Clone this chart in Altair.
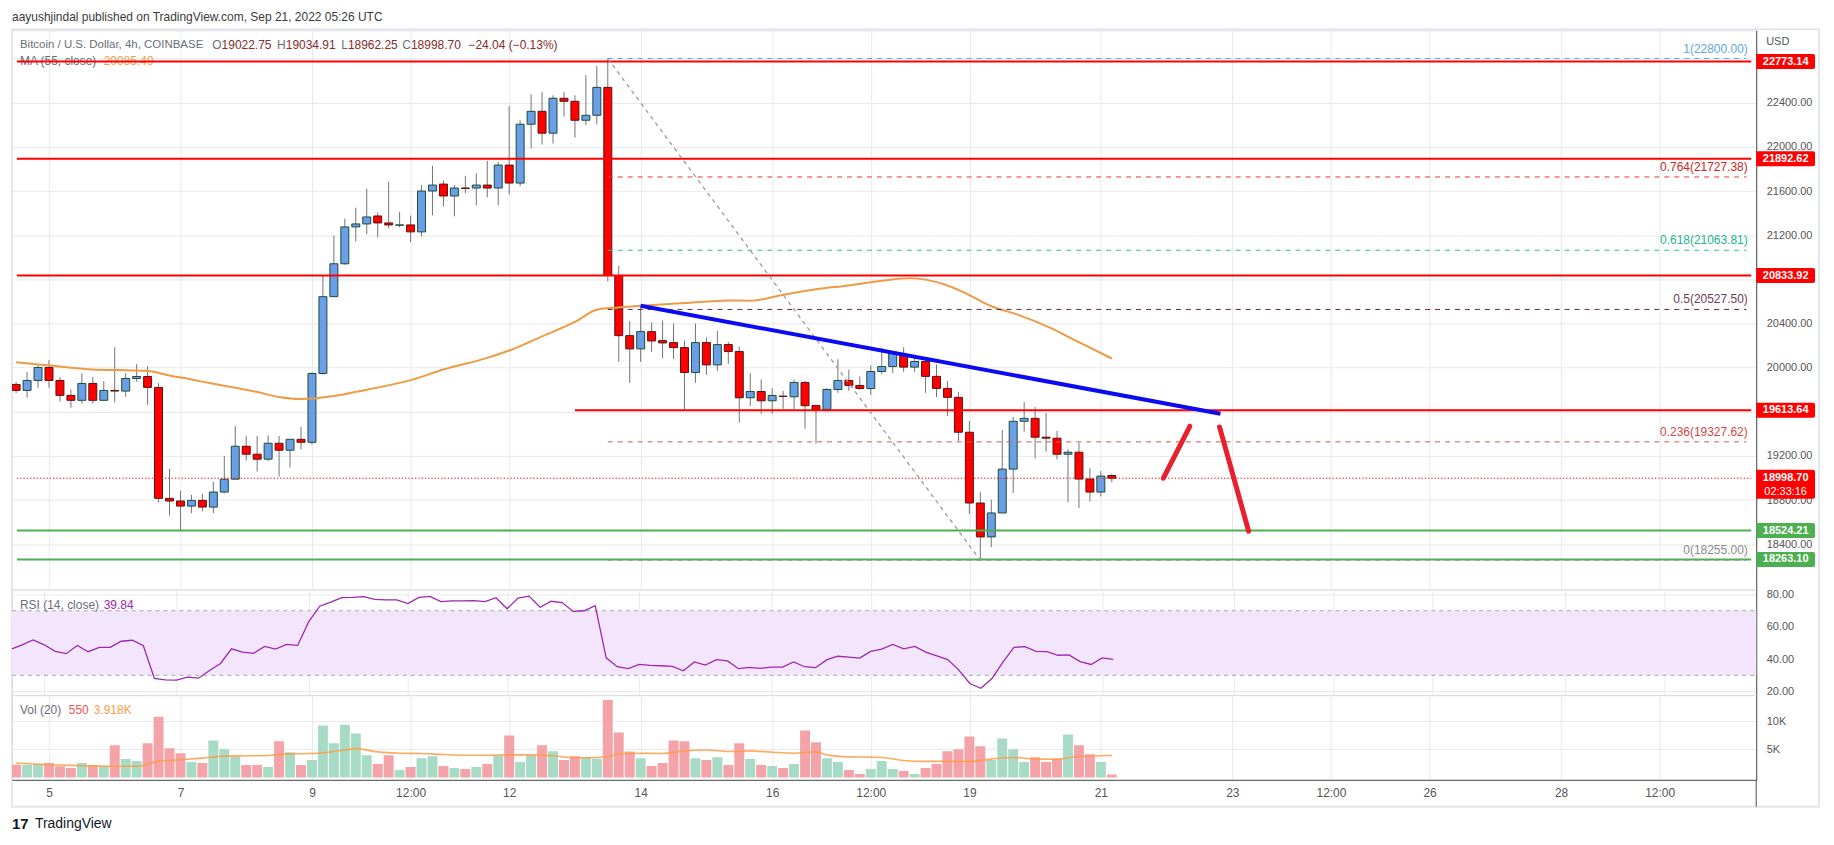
import altair as alt
import pandas as pd

# ---------------------------------------------------------------- data
# 4h candles, bar index k counted from 5 Sep 2022 00:00 UTC (k=-3 -> 4 Sep 12:00)
FIRST_BAR = -3

opens = [19848, 19794, 19884, 20002, 19884, 19749, 19704, 19857, 19704, 19794,
         19788, 19902, 19920, 19821, 18816, 18792, 18746, 18798, 18737, 18873,
         18990, 19288, 19216, 19171, 19315, 19252, 19351, 19324, 19947, 20643,
         20941, 21275, 21302, 21374, 21311, 21290, 21293, 21230, 21600, 21663,
         21555, 21627, 21627, 21654, 21627, 21835, 21672, 22205, 22322, 22124,
         22440, 22413, 22241, 22286, 22539, 20835, 20290, 20170, 20326, 20245,
         20227, 20182, 19956, 20227, 20025, 20209, 20146, 19727, 19784, 19700,
         19742, 19736, 19866, 19658, 19622, 19802, 19884, 19839, 19811, 19965,
         20010, 20110, 20005, 20056, 19921, 19812, 19731, 19415, 18774, 18467,
         18684, 19081, 19514, 19541, 19370, 19361, 19216, 19234, 18991, 18873,
         19022.75]
highs = [19870, 19960, 20029, 20068, 19914, 19803, 19950, 19914, 19878, 20185,
         19950, 20032, 20014, 19860, 19084, 18885, 18849, 18858, 18966, 19201,
         19472, 19382, 19382, 19388, 19382, 19351, 19463, 19959, 20835, 21196,
         21350, 21449, 21621, 21404, 21684, 21413, 21377, 21654, 21829, 21696,
         21654, 21738, 21762, 21874, 21865, 22370, 22241, 22476, 22497, 22467,
         22497, 22467, 22650, 22732, 22800, 20923, 20420, 20570, 20410, 20428,
         20401, 20245, 20401, 20275, 20335, 20233, 20191, 19950, 19893, 19814,
         19790, 19893, 19878, 19660, 19814, 20076, 19983, 19920, 20019, 20182,
         20149, 20185, 20089, 20095, 20029, 19878, 19779, 19517, 18876, 18804,
         19436, 19553, 19689, 19644, 19589, 19427, 19261, 19319, 19090, 19063,
         19034.91]
lows = [19770, 19728, 19818, 19818, 19692, 19637, 19674, 19674, 19704, 19683,
        19737, 19872, 19664, 18780, 18662, 18530, 18683, 18698, 18683, 18861,
        18990, 19159, 19059, 19153, 19014, 19096, 19258, 19303, 19938, 20643,
        20932, 21142, 21209, 21181, 21263, 21272, 21136, 21190, 21380, 21461,
        21371, 21579, 21470, 21543, 21470, 21570, 21645, 21985, 22021, 22030,
        22274, 22084, 22196, 22202, 20781, 20053, 19863, 20052, 20143, 20088,
        20079, 19622, 19863, 19935, 19971, 20034, 19501, 19652, 19583, 19583,
        19625, 19622, 19447, 19312, 19622, 19772, 19790, 19800, 19754, 19944,
        19953, 19963, 19963, 19773, 19734, 19562, 19337, 18674, 18255, 18374,
        18684, 18864, 19421, 19177, 19240, 19168, 18780, 18729, 18789, 18834,
        18962.25]
closes = [19794, 19884, 20002, 19884, 19749, 19704, 19857, 19704, 19794, 19788,
          19902, 19920, 19821, 18816, 18792, 18746, 18798, 18737, 18873, 18990,
          19288, 19216, 19171, 19315, 19252, 19351, 19324, 19947, 20643, 20941,
          21275, 21302, 21365, 21311, 21293, 21293, 21230, 21600, 21654, 21555,
          21627, 21624, 21654, 21627, 21835, 21672, 22205, 22322, 22124, 22440,
          22413, 22241, 22286, 22539, 20835, 20290, 20170, 20326, 20242, 20224,
          20182, 19956, 20227, 20025, 20209, 20146, 19727, 19784, 19700, 19748,
          19739, 19866, 19655, 19622, 19802, 19884, 19839, 19811, 19965, 20010,
          20137, 20005, 20056, 19921, 19812, 19731, 19415, 18774, 18467, 18684,
          19081, 19514, 19541, 19370, 19361, 19216, 19234, 18991, 18873, 19018,
          18998.70]
volume_k = [2.27, 2.27, 2.38, 2.56, 1.98, 1.69, 2.56, 2.21, 1.98, 5.70,
            3.26, 2.91, 6.05, 10.76, 5.17, 4.30, 2.73, 2.56, 6.57, 5.00,
            3.66, 2.21, 2.21, 1.86, 6.40, 4.48, 2.21, 3.08, 9.19, 6.05,
            9.36, 7.79, 3.95, 2.38, 3.95, 1.34, 1.86, 3.43, 3.78, 2.03,
            1.69, 1.51, 1.86, 2.38, 3.95, 7.44, 2.73, 3.95, 5.70, 4.65,
            3.08, 3.78, 3.60, 3.31, 13.72, 7.97, 4.59, 3.43, 2.03, 2.56,
            6.57, 6.40, 3.43, 3.08, 3.60, 2.21, 6.05, 3.26, 2.21, 2.03,
            1.69, 2.38, 8.31, 6.22, 3.43, 2.73, 1.34, 0.64, 1.51, 2.91,
            1.51, 1.16, 0.64, 1.69, 2.38, 4.65, 5.00, 7.27, 5.52, 3.08,
            6.92, 5.00, 2.73, 3.60, 2.73, 3.26, 7.62, 5.70, 4.13, 2.73,
            0.55]
rsi14 = [46.2, 48.9, 51.9, 48.9, 44.8, 43.4, 48.5, 44.6, 47.3, 47.3,
         51.1, 51.7, 48.3, 28.0, 27.2, 27.0, 28.8, 28.2, 33.0, 37.3,
         46.4, 44.4, 43.6, 47.9, 46.2, 49.1, 48.5, 63.1, 72.8, 75.3,
         78.1, 78.3, 78.7, 77.1, 76.7, 76.7, 74.5, 78.3, 78.9, 75.7,
         76.1, 76.1, 76.3, 75.7, 78.1, 71.2, 77.9, 79.1, 72.2, 75.9,
         75.1, 69.6, 70.0, 73.2, 40.8, 35.3, 34.1, 36.7, 36.1, 35.9,
         35.5, 32.8, 38.3, 36.3, 39.7, 38.9, 34.1, 34.9, 34.3, 35.1,
         35.1, 38.3, 35.3, 34.7, 39.5, 41.8, 41.2, 40.6, 44.8, 46.2,
         49.1, 46.4, 47.9, 44.4, 42.0, 39.7, 33.2, 24.9, 21.9, 28.0,
         38.1, 47.3, 47.7, 44.8, 44.6, 42.4, 42.6, 38.5, 36.7, 40.8,
         39.84]

ma_bar = [-3, 0, 2, 4, 6, 9, 11, 13, 15, 17, 19, 21, 23, 26, 29, 33, 36, 40, 42, 45,
          48, 50, 52, 54, 58, 62, 64, 67, 70, 73, 76, 78.6, 81.8, 83.3, 86, 88.4,
          91.4, 93.8, 97]
ma_val = [20050, 20020, 19999, 19984, 19978, 19969, 19929, 19893, 19854, 19818,
          19779, 19734, 19716, 19743, 19800, 19887, 19983, 20089, 20155, 20284,
          20414, 20525, 20546, 20561, 20585, 20609, 20606, 20660, 20711, 20745,
          20787, 20811, 20751, 20691, 20556, 20480, 20360, 20240, 20083]

volma_bar = [-3, 0, 3, 6, 8, 10, 12, 14, 16, 18, 20, 22, 24, 26, 28, 30, 32, 34, 36,
             38, 40, 42, 44, 46, 48, 50, 51, 52, 54, 56, 58, 60, 62, 64, 66, 68, 70,
             71, 73, 75, 76, 78, 80, 82, 84, 86, 88, 90, 92, 94, 96, 97]
volma_val = [2.56, 2.27, 2.09, 1.98, 1.98, 2.85, 3.14, 3.43, 3.78, 3.84, 3.90, 4.19,
             4.24, 4.59, 5.12, 4.53, 4.30, 4.24, 4.07, 3.95, 3.95, 4.01, 4.01, 3.84,
             3.49, 3.55, 3.66, 4.19, 4.30, 4.24, 4.71, 4.88, 4.59, 4.71, 4.48, 4.30,
             4.53, 4.01, 3.66, 3.60, 3.55, 3.02, 2.85, 2.85, 2.85, 3.26, 3.55, 3.26,
             3.26, 3.72, 3.84, 3.92]

# drawings (day = days after 5 Sep 00:00)
red_levels = [22773.14, 21892.62, 20833.92, 19613.64]
red_level_start = [None, None, None, 8.0]
green_levels = [18524.21, 18263.10]
last_price = 18998.70
fib_ratio = ["1", "0.764", "0.618", "0.5", "0.236", "0"]
fib_price = [22800.00, 21727.38, 21063.81, 20527.50, 19327.62, 18255.00]
fib_color = ["#5ea9dd", "#e53935", "#22c29a", "#5d2547", "#d9534f", "#9a9a9a"]
fib_text_color = ["#5ea9dd", "#c62828", "#22b58f", "#6b3a57", "#d64545", "#8a8a8a"]
fib_start = 8.5
fib_end = 25.82
trend_day = [9.0, 17.82]
trend_price = [20561, 19583]
diag_day = [8.5, 14.1667]
diag_price = [22800, 18255]
arrow_day = [[16.951, 17.353], [17.805, 18.248]]
arrow_price = [[18999, 19469], [19463, 18518]]

time_ticks = [0, 2, 4, 5.5, 7, 9, 11, 12.5, 14, 16, 18, 19.5, 21, 23, 24.5]
price_ticks = [18400, 18800, 19200, 19600, 20000, 20400, 20800, 21200, 21600, 22000, 22400, 22800]
hidden_price_labels = [19600, 20800, 22800]   # covered by the price tags in the original
rsi_ticks = [20, 40, 60, 80]
vol_ticks = [5, 10]

# ---------------------------------------------------------------- layout / style
FONT = "Liberation Sans"
W = 1750
H_MAIN, H_RSI, H_VOL = 561, 106, 85
X_DOM = [-0.487, 25.893]
Y_MAIN = [17991, 23056]
Y_RSI = [17.71, 83.21]
Y_VOL = [-0.41, 14.59]
GRID = "#e9e9eb"
AXC = "#4d4d4d"
LBL = "#555555"
UP, UP_B = "#6b9ee9", "#1d4d34"
DN, DN_B = "#ff0000", "#5a1212"
WICK = "#747474"
RED = "#ff0000"
GREEN = "#4caf50"
HDR_GREY = "#6a6d78"
HDR_VAL = "#862a2a"

xsc = alt.Scale(domain=X_DOM, nice=False, zero=False)
ax_x_grid = alt.Axis(values=time_ticks, labels=False, ticks=False, domain=False,
                     grid=True, gridColor=GRID, title=None)
ax_x_bottom = alt.Axis(values=time_ticks, labelExpr="datum.value % 1 != 0 ? '12:00' : format(datum.value + 5, 'd')",
                       ticks=False, tickSize=0, labelPadding=8, labelFontSize=12, labelColor=LBL,
                       labelFont=FONT, domain=True, domainColor=AXC, grid=True, gridColor=GRID,
                       title=None, labelFlush=False)


def right_axis(values, fmt=None, expr=None):
    kw = dict(orient="right", values=values, ticks=False, tickSize=0, labelPadding=10,
              labelFontSize=11, labelColor=LBL, labelFont=FONT, domain=True, domainColor=AXC,
              grid=True, gridColor=GRID, title=None)
    if fmt:
        kw["format"] = fmt
    if expr:
        kw["labelExpr"] = expr
    return alt.Axis(**kw)


hide_expr = " || ".join(f"datum.value == {v}" for v in hidden_price_labels)
ax_y_main = right_axis(price_ticks, expr=f"({hide_expr}) ? '' : format(datum.value, '.2f')")
ax_y_rsi = right_axis(rsi_ticks, fmt=".2f")
ax_y_vol = right_axis(vol_ticks, expr="datum.value + 'K'")

ysc_main = alt.Scale(domain=Y_MAIN, nice=False, zero=False)
ysc_rsi = alt.Scale(domain=Y_RSI, nice=False, zero=False)
ysc_vol = alt.Scale(domain=Y_VOL, nice=False, zero=False)


def X(f, ax):
    return alt.X(f"{f}:Q", scale=xsc, axis=ax, title=None)


def Ym(f):
    return alt.Y(f"{f}:Q", scale=ysc_main, axis=ax_y_main, title=None)


one = pd.DataFrame({"d": [0]})


def txt(s, x, y, color, size=12, align="left", weight="normal"):
    return alt.Chart(one).mark_text(text=s, align=align, baseline="middle", color=color,
                                    fontSize=size, font=FONT, fontWeight=weight).encode(
        x=alt.value(x), y=alt.value(y))


# ---------------------------------------------------------------- frames
n = len(opens)
bar_day = [(FIRST_BAR + i) / 6 for i in range(n)]
candles = pd.DataFrame({
    "t": bar_day, "o": opens, "h": highs, "l": lows, "c": closes,
})
candles["bt"] = candles[["o", "c"]].max(axis=1)
candles["bb"] = candles[["o", "c"]].min(axis=1)
candles["dir"] = ["up" if c >= o else "down" for o, c in zip(opens, closes)]

vol_df = pd.DataFrame({"t": bar_day, "v": volume_k, "dir": candles["dir"]})
rsi_df = pd.DataFrame({"t": bar_day, "r": rsi14})
ma_df = pd.DataFrame({"t": [b / 6 for b in ma_bar], "m": ma_val})
volma_df = pd.DataFrame({"t": [b / 6 for b in volma_bar], "m": volma_val})

red_df = pd.DataFrame({"p": red_levels,
                       "xs": [X_DOM[0] if s is None else s for s in red_level_start],
                       "xe": [X_DOM[1]] * len(red_levels)})
green_df = pd.DataFrame({"p": green_levels, "xs": [X_DOM[0]] * 2, "xe": [X_DOM[1]] * 2})
last_df = pd.DataFrame({"p": [last_price], "xs": [X_DOM[0]], "xe": [X_DOM[1]]})
fib_df = pd.DataFrame({"p": fib_price, "col": fib_color, "tcol": fib_text_color,
                       "xs": [fib_start] * 6, "xe": [fib_end] * 6,
                       "lab": [f"{r}({p:.2f})" for r, p in zip(fib_ratio, fib_price)]})
trend_df = pd.DataFrame({"t": trend_day, "p": trend_price})
diag_df = pd.DataFrame({"t": diag_day, "p": diag_price})
arrow_df = pd.DataFrame({"t": arrow_day[0] + arrow_day[1], "p": arrow_price[0] + arrow_price[1],
                         "seg": ["a", "a", "b", "b"]})
tag_df = pd.DataFrame({"p": red_levels + green_levels,
                       "col": [RED] * 4 + [GREEN] * 2,
                       "lab": [f"{p:.2f}" for p in red_levels + green_levels]})
last_tag = pd.DataFrame({"p": [last_price], "lab": [f"{last_price:.2f}"], "cd": ["02:33:16"]})

# ---------------------------------------------------------------- main pane
frame = alt.Chart(one).mark_rect(fillOpacity=0, stroke="#e4e7ed", strokeWidth=2).encode(
    x=alt.value(0), x2=alt.value(1813), y=alt.value(-1), y2=alt.value(779))

header = [
    txt("aayushjindal published on TradingView.com, Sep 21, 2022 05:26 UTC", 0, -13, "#3a3a3a"),
    txt("Bitcoin / U.S. Dollar, 4h, COINBASE", 8, 14.3, HDR_GREY, size=11.5),
    txt("O", 201, 14.3, HDR_GREY), txt("19022.75", 210.3, 14.3, HDR_VAL),
    txt("H", 266, 14.3, HDR_GREY), txt("19034.91", 274.7, 14.3, HDR_VAL),
    txt("L", 330.3, 14.3, HDR_GREY), txt("18962.25", 337, 14.3, HDR_VAL),
    txt("C", 391.6, 14.3, HDR_GREY), txt("18998.70", 400.3, 14.3, HDR_VAL),
    txt("\u221224.04 (\u22120.13%)", 458, 14.3, HDR_VAL),
    txt("MA (55, close)", 8, 31.3, HDR_GREY),
    txt("20085.49", 92, 31.3, "#f0a04b"),
    txt("USD", W + 10, 12, LBL, size=11),
]

wicks = alt.Chart(candles).mark_rule(color=WICK, strokeWidth=1, clip=True).encode(
    x=X("t", ax_x_grid), y=Ym("l"), y2="h:Q")
bodies = alt.Chart(candles).mark_bar(size=8, strokeWidth=1, clip=True).encode(
    x=X("t", ax_x_grid), y=Ym("bt"), y2="bb:Q",
    fill=alt.Fill("dir:N", scale=alt.Scale(domain=["up", "down"], range=[UP, DN]), legend=None),
    stroke=alt.Stroke("dir:N", scale=alt.Scale(domain=["up", "down"], range=[UP_B, DN_B]), legend=None))
ma_line = alt.Chart(ma_df).mark_line(color="#ef9a45", strokeWidth=2, interpolate="monotone",
                                     clip=True).encode(x=X("t", ax_x_grid), y=Ym("m"))

red_lines = alt.Chart(red_df).mark_rule(color=RED, strokeWidth=2).encode(
    x=X("xs", ax_x_grid), x2="xe:Q", y=Ym("p"))
green_lines = alt.Chart(green_df).mark_rule(color=GREEN, strokeWidth=2).encode(
    x=X("xs", ax_x_grid), x2="xe:Q", y=Ym("p"))
fib_lines = alt.Chart(fib_df).mark_rule(strokeWidth=1, strokeDash=[5, 5]).encode(
    x=X("xs", ax_x_grid), x2="xe:Q", y=Ym("p"), color=alt.Color("col:N", scale=None))
fib_labels = alt.Chart(fib_df).mark_text(align="right", baseline="middle", dy=-10, fontSize=12,
                                         font=FONT).encode(
    x=alt.value(W - 8.5), y=Ym("p"), text="lab:N", color=alt.Color("tcol:N", scale=None))
diag = alt.Chart(diag_df).mark_line(color="#9a9a9a", strokeWidth=1.3, strokeDash=[4, 4]).encode(
    x=X("t", ax_x_grid), y=Ym("p"))
last_line = alt.Chart(last_df).mark_rule(color=RED, strokeWidth=1, strokeDash=[1.3, 2]).encode(
    x=X("xs", ax_x_grid), x2="xe:Q", y=Ym("p"))
trend = alt.Chart(trend_df).mark_line(color="#0b0bf2", strokeWidth=4).encode(
    x=X("t", ax_x_grid), y=Ym("p"))
arrows = alt.Chart(arrow_df).mark_line(color="#e8202d", strokeWidth=5, strokeCap="round").encode(
    x=X("t", ax_x_grid), y=Ym("p"), detail="seg:N")

tag_rect = alt.Chart(tag_df).mark_rect(yOffset=-7.5, y2Offset=7.5, cornerRadiusTopRight=2,
                                       cornerRadiusBottomRight=2).encode(
    x=alt.value(W), x2=alt.value(W + 59), y=Ym("p"), y2="p:Q", color=alt.Color("col:N", scale=None))
tag_text = alt.Chart(tag_df).mark_text(color="white", fontSize=11, fontWeight="bold", font=FONT,
                                       align="center", baseline="middle").encode(
    x=alt.value(W + 29.5), y=Ym("p"), text="lab:N")
last_rect = alt.Chart(last_tag).mark_rect(color=RED, yOffset=-8.5, y2Offset=20.5,
                                          cornerRadiusTopRight=2, cornerRadiusBottomRight=2).encode(
    x=alt.value(W), x2=alt.value(W + 59), y=Ym("p"), y2="p:Q")
last_text = alt.Chart(last_tag).mark_text(color="white", fontSize=11, fontWeight="bold", font=FONT,
                                          align="center", baseline="middle").encode(
    x=alt.value(W + 29.5), y=Ym("p"), text="lab:N")
last_cd = alt.Chart(last_tag).mark_text(color="white", fontSize=11, font=FONT, dy=14,
                                        align="center", baseline="middle").encode(
    x=alt.value(W + 29.5), y=Ym("p"), text="cd:N")

main = alt.layer(frame, *header, wicks, bodies, ma_line, red_lines, green_lines, fib_lines,
                 fib_labels, diag, last_line, trend, arrows, tag_rect, tag_text,
                 last_rect, last_text, last_cd).properties(width=W, height=H_MAIN)

# ---------------------------------------------------------------- RSI pane
band_df = pd.DataFrame({"x0": [X_DOM[0]], "x1": [X_DOM[1]], "y0": [30], "y1": [70]})
band_lines = pd.DataFrame({"r": [30, 70], "xs": [X_DOM[0]] * 2, "xe": [X_DOM[1]] * 2})


def Yr(f):
    return alt.Y(f"{f}:Q", scale=ysc_rsi, axis=ax_y_rsi, title=None)


band = alt.Chart(band_df).mark_rect(color="#f3e6fc").encode(
    x=X("x0", ax_x_grid), x2="x1:Q", y=Yr("y0"), y2="y1:Q")
band_rules = alt.Chart(band_lines).mark_rule(color="#a8a8a8", strokeWidth=1, strokeDash=[4, 4]).encode(
    x=X("xs", ax_x_grid), x2="xe:Q", y=Yr("r"))
rsi_line = alt.Chart(rsi_df).mark_line(color="#9c27b0", strokeWidth=1.3, clip=True).encode(
    x=X("t", ax_x_grid), y=Yr("r"))
rsi = alt.layer(band, band_rules, rsi_line,
                txt("RSI (14, close)", 8, 15.8, HDR_GREY),
                txt("39.84", 92, 15.8, "#9c27b0")).properties(width=W, height=H_RSI)

# ---------------------------------------------------------------- volume pane
vol_bars = alt.Chart(vol_df).mark_bar(size=10, clip=True).encode(
    x=X("t", ax_x_bottom),
    y=alt.Y("v:Q", scale=ysc_vol, axis=ax_y_vol, title=None), y2=alt.value(H_VOL),
    color=alt.Color("dir:N", scale=alt.Scale(domain=["up", "down"], range=["#a8dbc5", "#f4a4a9"]),
                    legend=None))
vol_ma = alt.Chart(volma_df).mark_line(color="#ff9b45", strokeWidth=1.6, opacity=0.85,
                                       interpolate="monotone", clip=True).encode(
    x=X("t", ax_x_bottom), y=alt.Y("m:Q", scale=ysc_vol, axis=ax_y_vol, title=None))
axis_ext = alt.Chart(one).mark_rule(color=AXC, strokeWidth=1).encode(
    x=alt.value(W), y=alt.value(H_VOL), y2=alt.value(H_VOL + 27))
vol = alt.layer(vol_bars, vol_ma, axis_ext,
                txt("Vol (20)", 8, 15.4, HDR_GREY),
                txt("550", 57, 15.4, "#ef5350"),
                txt("3.918K", 82, 15.4, "#ff9b45"),
                txt("17", 0, H_VOL + 44, "#131722", size=15, weight="bold"),
                txt("TradingView", 23, H_VOL + 44, "#131722", size=14)).properties(width=W, height=H_VOL)

chart = alt.vconcat(main, rsi, vol, spacing=0, bounds="flush").resolve_scale(
    y="independent", color="independent", fill="independent", stroke="independent"
).properties(
    padding={"left": 2, "top": 1, "right": 5, "bottom": 0}
).configure_view(stroke="#e4e7ed", strokeWidth=1).configure(background="white")

chart.save("out.html", embed_options={"renderer": "svg", "actions": False})
